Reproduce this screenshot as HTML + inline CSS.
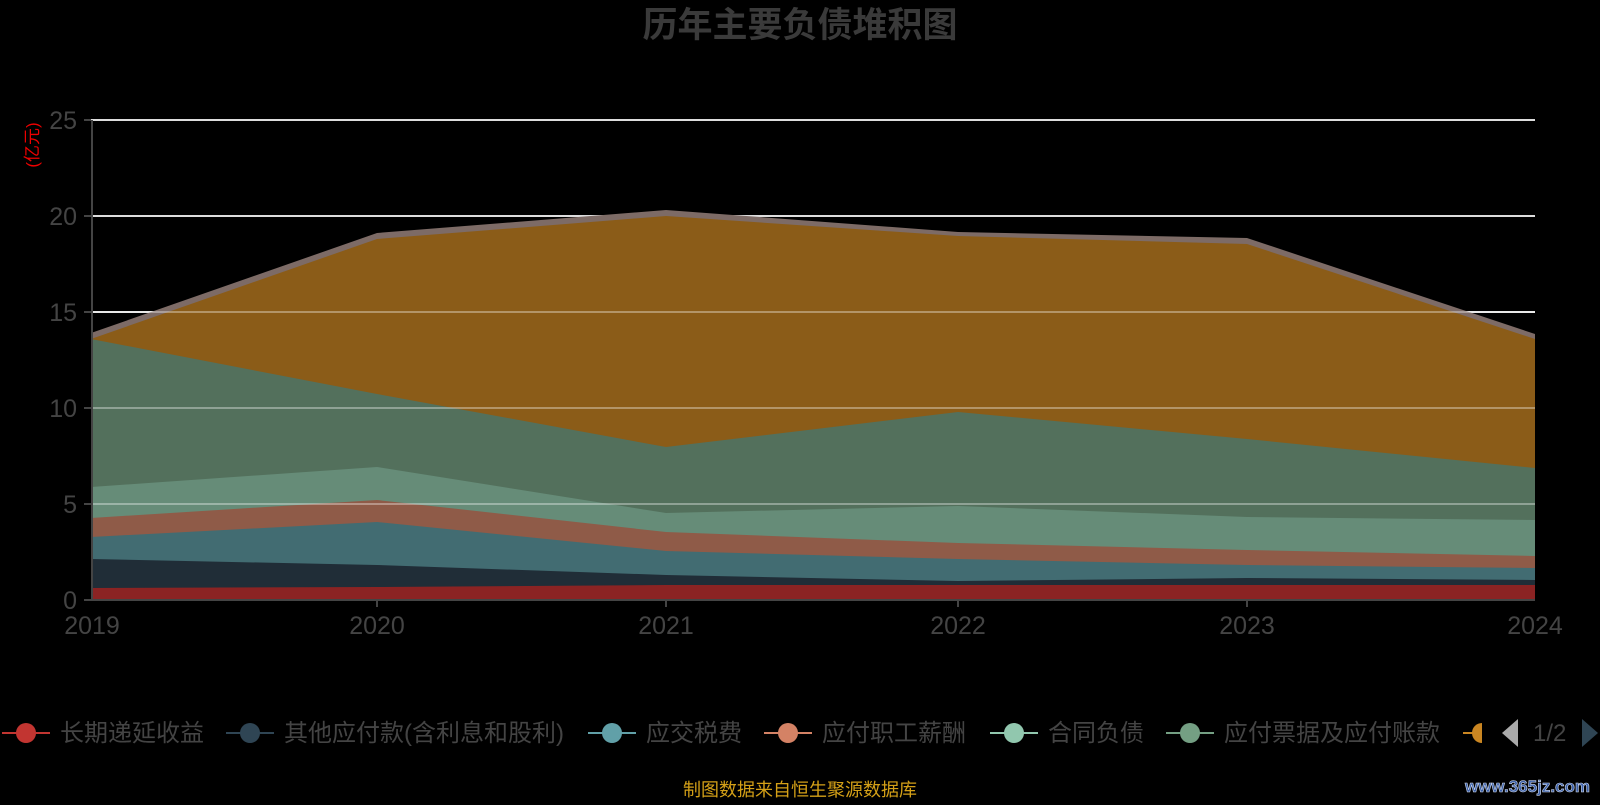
<!DOCTYPE html>
<html><head><meta charset="utf-8"><style>
body{margin:0;background:#000;width:1600px;height:800px;overflow:hidden;font-family:"Liberation Sans","Noto Sans CJK SC",sans-serif;}
</style></head><body>
<svg width="1600" height="800" xmlns="http://www.w3.org/2000/svg" font-family="Liberation Sans, Noto Sans CJK SC, sans-serif">
<rect width="1600" height="800" fill="#000"/>
<text x="800" y="37" text-anchor="middle" font-size="35" font-weight="bold" fill="#3a3a3a">历年主要负债堆积图</text>
<text x="0" y="0" transform="translate(38,145) rotate(-90)" text-anchor="middle" font-size="17" fill="#e00">(亿元)</text>
<g stroke="#ddd" stroke-width="2">
<line x1="91" y1="120" x2="1535" y2="120"/><line x1="91" y1="216" x2="1535" y2="216"/><line x1="91" y1="312" x2="1535" y2="312"/><line x1="91" y1="408" x2="1535" y2="408"/><line x1="91" y1="504" x2="1535" y2="504"/>
</g>
<g>
<polygon fill="#7d6b66" points="91,600 91,333 377,233 666,210 958,232 1247,238 1535,334 1535,600"/>
<polygon fill="#8b5c18" points="91,600 91,339 377,239 666,216 958,236 1247,244 1535,339 1535,600"/>
<polygon fill="#53705c" points="91,600 91,339 377,394 666,447 958,412 1247,439 1535,468 1535,600"/>
<polygon fill="#668c78" points="91,600 91,487 377,467 666,513 958,506 1247,517 1535,520 1535,600"/>
<polygon fill="#8f5b48" points="91,600 91,518 377,500 666,532 958,543 1247,550 1535,556 1535,600"/>
<polygon fill="#426c72" points="91,600 91,537 377,522 666,551 958,559 1247,565 1535,568 1535,600"/>
<polygon fill="#202d37" points="91,600 91,559 377,565 666,575 958,581 1247,578 1535,580 1535,600"/>
<polygon fill="#8b2323" points="91,600 91,588 377,587 666,585 958,585 1247,585 1535,585 1535,600"/>
</g>
<g stroke="#fff" stroke-opacity="0.35" stroke-width="2">
<line x1="91" y1="312" x2="1535" y2="312"/><line x1="91" y1="408" x2="1535" y2="408"/><line x1="91" y1="504" x2="1535" y2="504"/>
</g>
<line x1="92" y1="120" x2="92" y2="600" stroke="#444" stroke-width="2"/>
<line x1="91" y1="600" x2="1535" y2="600" stroke="#444" stroke-width="2"/>
<g stroke="#444" stroke-width="2">
<line x1="84" y1="120" x2="91" y2="120"/><line x1="84" y1="216" x2="91" y2="216"/><line x1="84" y1="312" x2="91" y2="312"/><line x1="84" y1="408" x2="91" y2="408"/><line x1="84" y1="504" x2="91" y2="504"/><line x1="84" y1="600" x2="91" y2="600"/>
<line x1="377" y1="600" x2="377" y2="607"/><line x1="666" y1="600" x2="666" y2="607"/><line x1="958" y1="600" x2="958" y2="607"/><line x1="1247" y1="600" x2="1247" y2="607"/>
</g>
<g font-size="25" fill="#444" text-anchor="end">
<text x="77" y="129">25</text><text x="77" y="225">20</text><text x="77" y="321">15</text><text x="77" y="417">10</text><text x="77" y="513">5</text><text x="77" y="609">0</text>
</g>
<g font-size="25" fill="#444" text-anchor="middle">
<text x="92" y="634">2019</text><text x="377" y="634">2020</text><text x="666" y="634">2021</text><text x="958" y="634">2022</text><text x="1247" y="634">2023</text><text x="1535" y="634">2024</text>
</g>
<g font-size="24" fill="#444">
<line x1="2" y1="733" x2="50" y2="733" stroke="#c23531" stroke-width="2"/><circle cx="26" cy="733" r="10" fill="#c23531"/><text x="60" y="741">长期递延收益</text>
<line x1="226" y1="733" x2="274" y2="733" stroke="#2f4554" stroke-width="2"/><circle cx="250" cy="733" r="10" fill="#2f4554"/><text x="284" y="741">其他应付款(含利息和股利)</text>
<line x1="588" y1="733" x2="636" y2="733" stroke="#61a0a8" stroke-width="2"/><circle cx="612" cy="733" r="10" fill="#61a0a8"/><text x="646" y="741">应交税费</text>
<line x1="764" y1="733" x2="812" y2="733" stroke="#d48265" stroke-width="2"/><circle cx="788" cy="733" r="10" fill="#d48265"/><text x="822" y="741">应付职工薪酬</text>
<line x1="990" y1="733" x2="1038" y2="733" stroke="#91c7ae" stroke-width="2"/><circle cx="1014" cy="733" r="10" fill="#91c7ae"/><text x="1048" y="741">合同负债</text>
<line x1="1166" y1="733" x2="1214" y2="733" stroke="#749f83" stroke-width="2"/><circle cx="1190" cy="733" r="10" fill="#749f83"/><text x="1224" y="741">应付票据及应付账款</text>
<line x1="1463" y1="733" x2="1482" y2="733" stroke="#ca8622" stroke-width="2"/><path d="M1482,723 A10,10 0 0 0 1482,743 Z" fill="#ca8622"/>
<polygon points="1502,733 1518,719 1518,747" fill="#aaa"/>
<text x="1533" y="741">1/2</text>
<polygon points="1598,733 1582,719 1582,747" fill="#2f4554"/>
</g>
<text x="800" y="796" text-anchor="middle" font-size="18" fill="#d4a017">制图数据来自恒生聚源数据库</text>
<text x="1590" y="792" text-anchor="end" font-size="17" font-weight="bold" fill="#3a5fa8" stroke="#cfd8ea" stroke-width="0.6">www.365jz.com</text>
</svg>
</body></html>
